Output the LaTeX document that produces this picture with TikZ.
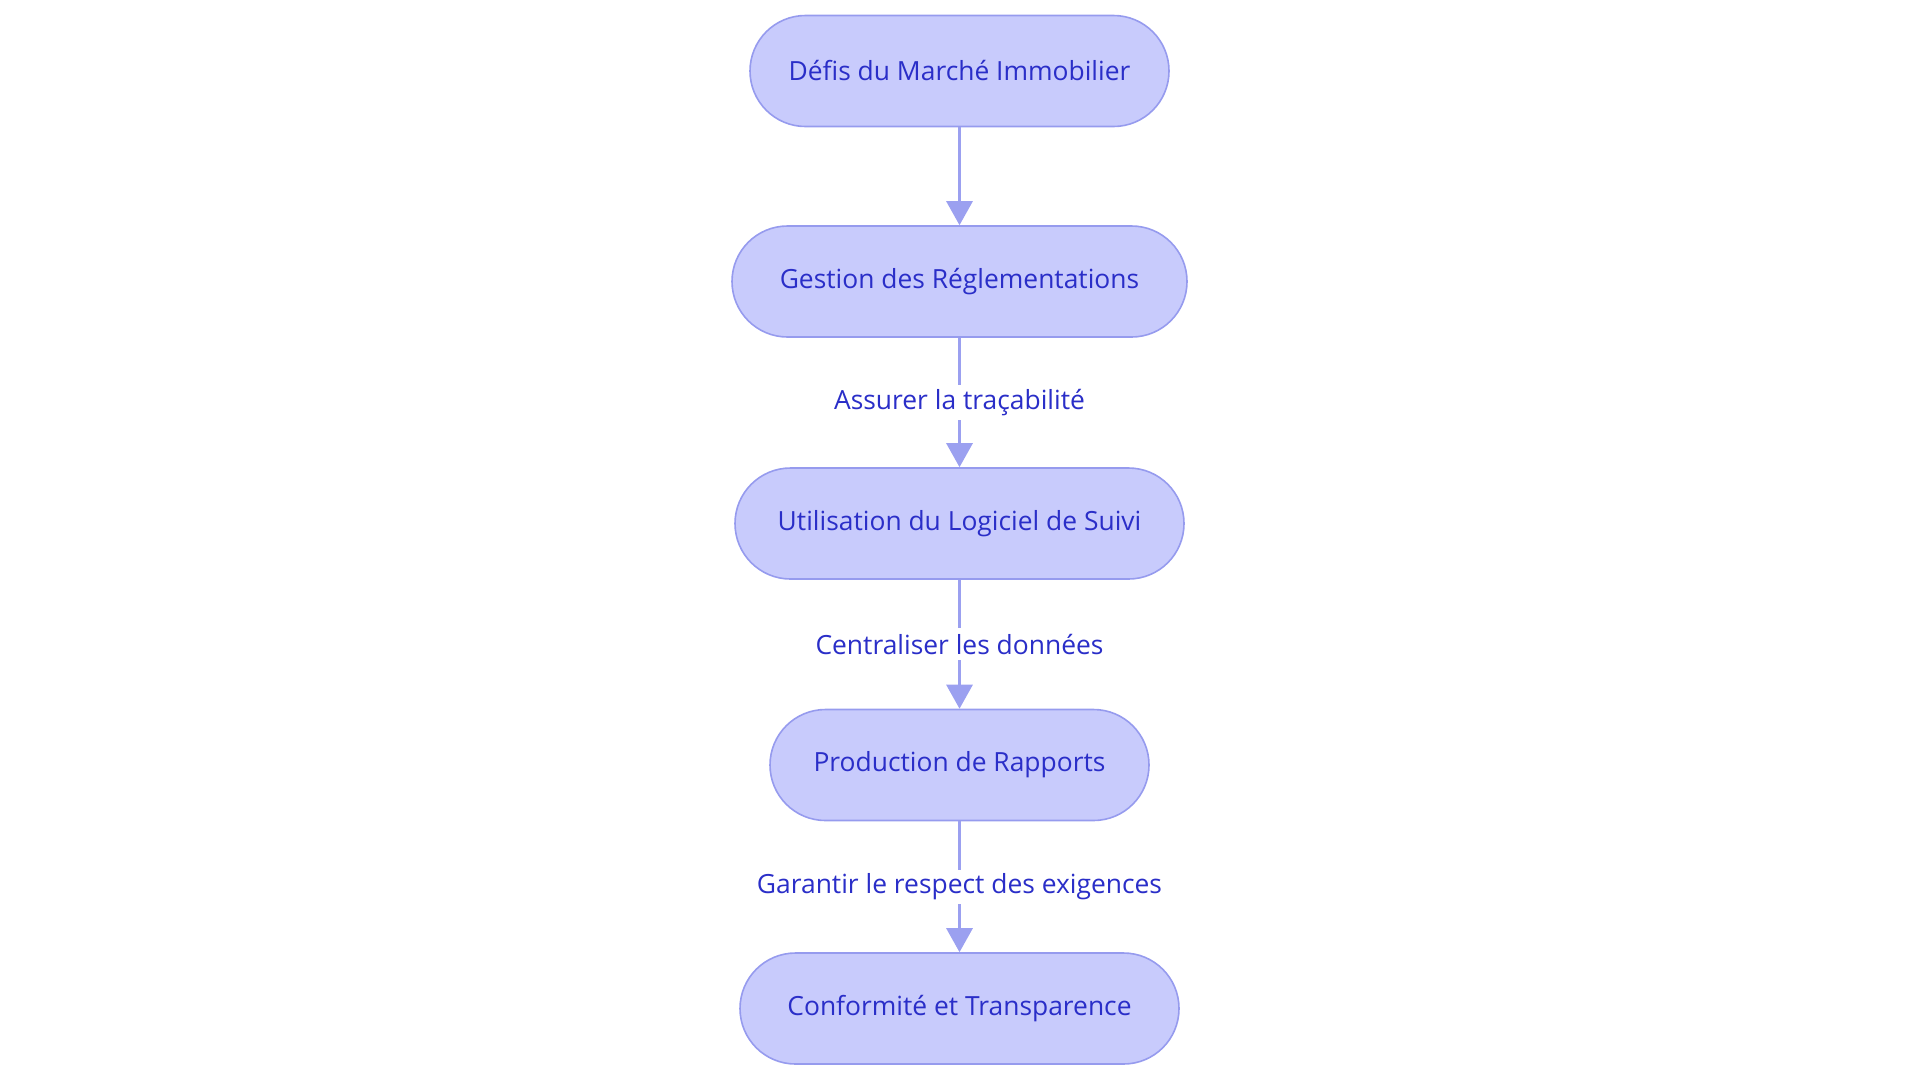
\documentclass[tikz,border=0pt]{standalone}
\usepackage{fontspec}
\setmainfont{Open Sans}
\usetikzlibrary{arrows.meta}
\definecolor{boxfill}{RGB}{200,203,252}
\definecolor{boxline}{RGB}{150,155,238}
\definecolor{txt}{RGB}{42,46,200}
\definecolor{arrcol}{RGB}{155,160,240}
\tikzset{
  box/.style={draw=boxline, line width=0.8pt, fill=boxfill, rectangle, rounded corners=27.75pt,
    minimum height=55.5pt, text=txt, font=\fontsize{13.2}{16}\selectfont, inner sep=0pt},
  lbl/.style={fill=white, text=txt, font=\fontsize{13.2}{16}\selectfont, inner sep=2pt, minimum height=16pt},
  arr/.style={draw=arrcol, line width=1.5pt, -{Triangle[length=12pt,width=13pt]}}
}
\begin{document}
\begin{tikzpicture}[x=0.5pt,y=-0.5pt]
\useasboundingbox (0,0) rectangle (1920,1083);
\node[box, minimum width=209.5pt] (n1) at (959.5,71) {Défis du Marché Immobilier};
\node[box, minimum width=227.5pt] (n2) at (959.5,281.5) {Gestion des Réglementations};
\node[box, minimum width=224.5pt] (n3) at (959.5,523.5) {Utilisation du Logiciel de Suivi};
\node[box, minimum width=189.5pt] (n4) at (959.5,765) {Production de Rapports};
\node[box, minimum width=219.5pt] (n5) at (959.5,1008.5) {Conformité et Transparence};
\draw[arr] (n1) -- (n2);
\draw[arr] (n2) -- node[lbl] {Assurer la traçabilité} (n3);
\draw[arr] (n3) -- node[lbl] {Centraliser les données} (n4);
\draw[arr] (n4) -- node[lbl] {Garantir le respect des exigences} (n5);
\end{tikzpicture}
\end{document}
